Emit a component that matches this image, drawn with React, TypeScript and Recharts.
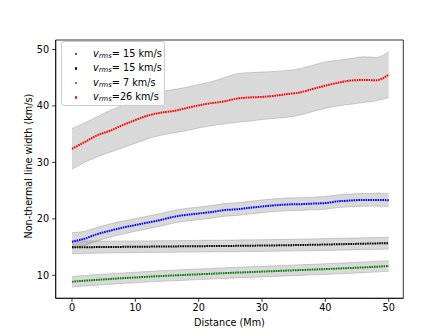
import React from 'react';
import { ComposedChart, Line, Area, XAxis, YAxis, Legend, Label, ReferenceArea } from 'recharts';

const distance = [0, 2, 4, 6, 8, 10, 12, 14, 16, 18, 20, 22, 24, 26, 28, 30, 32, 34, 36, 38, 40, 42, 44, 46, 48, 50];

const blueMid = [15.95, 16.5, 17.3, 17.9, 18.45, 18.9, 19.35, 19.8, 20.35, 20.7, 20.95, 21.2, 21.55, 21.7, 21.95, 22.2, 22.4, 22.55, 22.6, 22.7, 22.8, 23.1, 23.25, 23.35, 23.35, 23.3];
const blueHi = [17.55, 17.8, 18.5, 19.1, 19.6, 20.05, 20.5, 20.95, 21.5, 21.85, 22.1, 22.35, 22.7, 22.85, 23.1, 23.35, 23.55, 23.7, 23.75, 23.85, 23.95, 24.25, 24.4, 24.5, 24.5, 24.45];
const blueLo = [14.8, 15.3, 16.1, 16.75, 17.3, 17.8, 18.25, 18.7, 19.25, 19.6, 19.85, 20.1, 20.45, 20.6, 20.85, 21.1, 21.3, 21.45, 21.5, 21.6, 21.7, 22.0, 22.15, 22.25, 22.25, 22.2];

const blackMid = [14.95, 14.97, 15.0, 15.02, 15.04, 15.06, 15.08, 15.1, 15.12, 15.14, 15.16, 15.18, 15.2, 15.22, 15.25, 15.27, 15.3, 15.33, 15.37, 15.41, 15.45, 15.5, 15.55, 15.6, 15.65, 15.7];
const blackHi = [16.1, 16.08, 16.07, 16.07, 16.08, 16.09, 16.1, 16.12, 16.14, 16.16, 16.18, 16.2, 16.22, 16.25, 16.28, 16.3, 16.34, 16.37, 16.41, 16.45, 16.5, 16.55, 16.6, 16.65, 16.7, 16.75];
const blackLo = [13.85, 13.88, 13.93, 13.97, 14.0, 14.02, 14.05, 14.07, 14.09, 14.11, 14.13, 14.15, 14.17, 14.19, 14.22, 14.24, 14.27, 14.3, 14.33, 14.37, 14.41, 14.45, 14.5, 14.55, 14.6, 14.65];

const greenMid = [8.87, 9.05, 9.2, 9.35, 9.5, 9.62, 9.75, 9.87, 9.98, 10.08, 10.18, 10.28, 10.38, 10.48, 10.57, 10.66, 10.75, 10.84, 10.93, 11.02, 11.1, 11.2, 11.3, 11.4, 11.52, 11.65];
const greenHi = [9.8, 9.98, 10.13, 10.28, 10.43, 10.56, 10.69, 10.81, 10.92, 11.02, 11.12, 11.22, 11.32, 11.42, 11.51, 11.6, 11.69, 11.78, 11.87, 11.96, 12.05, 12.15, 12.25, 12.35, 12.47, 12.6];
const greenLo = [7.92, 8.1, 8.26, 8.41, 8.56, 8.68, 8.81, 8.93, 9.04, 9.14, 9.24, 9.34, 9.44, 9.54, 9.63, 9.72, 9.81, 9.9, 9.99, 10.08, 10.16, 10.26, 10.36, 10.46, 10.58, 10.7];

const redMid = [32.4, 33.6, 34.8, 35.6, 36.6, 37.5, 38.3, 38.8, 39.1, 39.6, 40.1, 40.5, 40.8, 41.3, 41.5, 41.6, 41.8, 42.1, 42.4, 43.0, 43.6, 44.1, 44.5, 44.6, 44.55, 45.55];
const redHi = [36.0, 37.0, 38.1, 39.2, 40.1, 41.0, 41.9, 42.5, 42.9, 43.3, 43.8, 44.3, 45.0, 45.7, 45.9, 46.0, 46.1, 46.3, 46.6, 47.2, 47.8, 48.1, 48.4, 48.7, 48.6, 49.6];
const redLo = [28.8, 30.0, 31.0, 31.8, 32.6, 33.4, 34.2, 34.8, 35.2, 35.6, 36.1, 36.5, 36.8, 37.1, 37.3, 37.6, 37.8, 38.0, 38.4, 39.0, 39.6, 40.0, 40.3, 40.6, 40.9, 41.5];

const xTicks = [0, 10, 20, 30, 40, 50];
const yTicks = [10, 20, 30, 40, 50];
const xDomain = [-2.57, 52.3];
const yDomain = [5.93, 51.68];

const seriesLabels = [
  { color: '#0000ff', text: '= 15 km/s' },
  { color: '#000000', text: '= 15 km/s' },
  { color: '#008000', text: '= 7 km/s' },
  { color: '#ff0000', text: '=26 km/s' },
];

const data = distance.map((d, i) => ({
  d,
  blue: blueMid[i],
  blueBand: [blueLo[i], blueHi[i]],
  black: blackMid[i],
  blackBand: [blackLo[i], blackHi[i]],
  green: greenMid[i],
  greenBand: [greenLo[i], greenHi[i]],
  red: redMid[i],
  redBand: [redLo[i], redHi[i]],
}));

const FONT = 'DejaVu Sans, sans-serif';
const FS = 9.7;

const LegendBox = () => (
  <div
    style={{
      border: '1px solid #cccccc',
      borderRadius: 3,
      background: 'rgba(255,255,255,0.8)',
      width: 104,
      height: 65,
      boxSizing: 'border-box',
      padding: '5px 0 0 0',
      fontFamily: FONT,
      fontSize: FS,
      color: '#000',
      textAlign: 'left',
    }}
  >
    {seriesLabels.map((s, i) => (
      <div key={i} style={{ display: 'flex', alignItems: 'center', height: 14.4, lineHeight: '14.4px', whiteSpace: 'nowrap' }}>
        <span style={{ display: 'inline-block', width: 2.6, height: 2.6, borderRadius: '50%', background: s.color, marginLeft: 12.5, marginRight: 16 }} />
        <span style={{ fontStyle: 'italic' }}>v</span>
        <span style={{ fontStyle: 'italic', fontSize: 6.8, position: 'relative', top: 2 }}>rms</span>
        <span>{s.text}</span>
      </div>
    ))}
  </div>
);

const band = (key: string) => (
  <Area
    key={key}
    type="monotone"
    dataKey={key}
    stroke="#808080"
    strokeOpacity={0.35}
    strokeWidth={1}
    fill="#808080"
    fillOpacity={0.3}
    isAnimationActive={false}
    dot={false}
    activeDot={false}
    legendType="none"
  />
);

const line = (key: string, color: string) => (
  <Line
    key={key}
    type="monotone"
    dataKey={key}
    stroke={color}
    strokeWidth={2}
    strokeDasharray="1.6 0.8"
    dot={false}
    activeDot={false}
    isAnimationActive={false}
    legendType="none"
  />
);

export default function App() {
  return (
    <div style={{ position: 'absolute', left: 0, top: 0, width: 448, height: 336, background: '#fff' }}>
      <ComposedChart width={448} height={336} data={data} margin={{ top: 40, right: 44.7, bottom: 7.7, left: 15.7 }}>
        <XAxis
          dataKey="d"
          type="number"
          domain={xDomain}
          ticks={xTicks}
          allowDataOverflow
          height={30}
          tickSize={3.5}
          tickMargin={2.5}
          stroke="#000"
          strokeWidth={0.8}
          tick={{ fill: '#000', fontSize: FS, fontFamily: FONT }}
        >
          <Label
            content={(p: any) => (
              <text
                x={p.viewBox.x + p.viewBox.width / 2}
                y={p.viewBox.y + 28}
                textAnchor="middle"
                fontFamily={FONT}
                fontSize={FS}
                fill="#000"
              >
                Distance (Mm)
              </text>
            )}
          />
        </XAxis>
        <YAxis
          type="number"
          domain={yDomain}
          ticks={yTicks}
          allowDataOverflow
          width={40}
          tickSize={3.5}
          tickMargin={3}
          stroke="#000"
          strokeWidth={0.8}
          tick={{ fill: '#000', fontSize: FS, fontFamily: FONT }}
        >
          <Label
            content={(p: any) => {
              const cx = p.viewBox.x + 12.8;
              const cy = p.viewBox.y + p.viewBox.height / 2 - 3;
              return (
                <text
                  x={cx}
                  y={cy}
                  transform={`rotate(-90 ${cx} ${cy})`}
                  textAnchor="middle"
                  dominantBaseline="central"
                  fontFamily={FONT}
                  fontSize={FS}
                  fill="#000"
                >
                  Non-thermal line width (km/s)
                </text>
              );
            }}
          />
        </YAxis>
        {band('redBand')}
        {band('blueBand')}
        {band('blackBand')}
        {band('greenBand')}
        {line('blue', '#0000ff')}
        {line('black', '#000000')}
        {line('green', '#008000')}
        {line('red', '#ff0000')}
        <ReferenceArea
          x1={xDomain[0]}
          x2={xDomain[1]}
          y1={yDomain[0]}
          y2={yDomain[1]}
          fill="none"
          fillOpacity={0}
          stroke="#000"
          strokeWidth={0.8}
          ifOverflow="visible"
        />
        <Legend
          layout="vertical"
          verticalAlign="middle"
          align="center"
          content={() => <LegendBox />}
          wrapperStyle={{ left: 61, top: 41, width: 'auto', height: 'auto' }}
        />
      </ComposedChart>
    </div>
  );
}
